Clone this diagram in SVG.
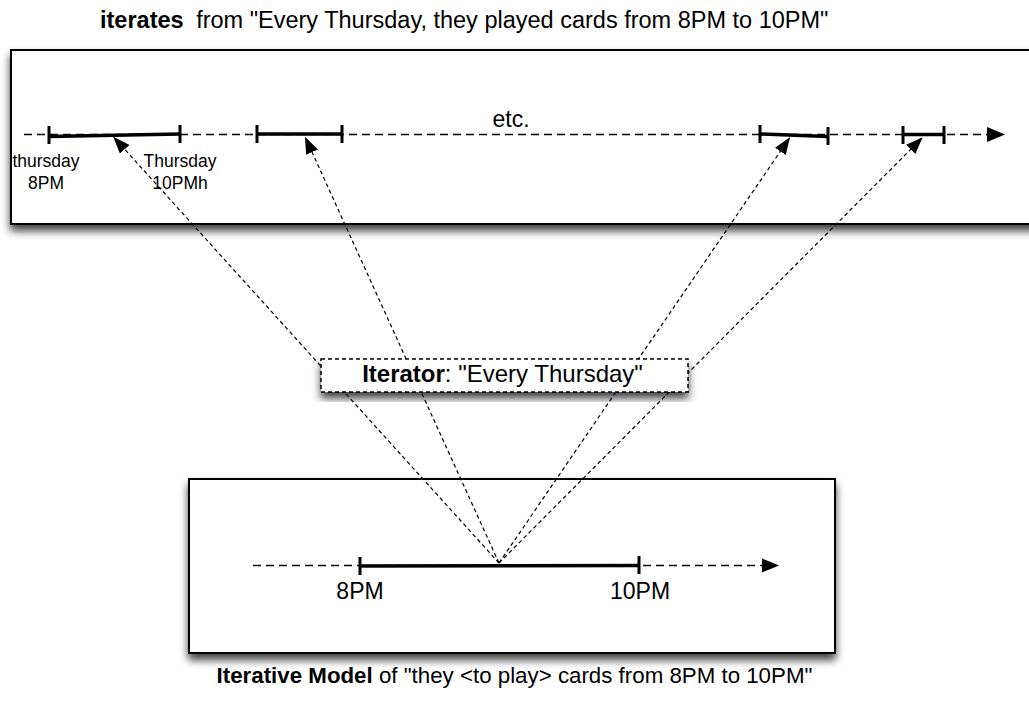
<svg xmlns="http://www.w3.org/2000/svg" width="1029" height="702" viewBox="0 0 1029 702">
<style>
text{font-family:"Liberation Sans",Arial,sans-serif;fill:#000}
.box{fill:#fff;stroke:#000;stroke-width:2}
.itbox{fill:#fff;stroke:#000;stroke-width:1.5;stroke-dasharray:4 3}
.axis{stroke:#000;stroke-width:1.5;stroke-dasharray:8 5;fill:none}
.seg{stroke:#000;stroke-width:3.5;fill:none}
.tick{stroke:#000;stroke-width:3;fill:none}
.conn{stroke:#000;stroke-width:1.2;stroke-dasharray:4 3;fill:none}
.lbl{font-size:17.5px}
.big{font-size:23px}
</style>
<defs>
<filter id="sh" x="-10%" y="-20%" width="120%" height="150%">
<feDropShadow dx="0" dy="6" stdDeviation="4.5" flood-color="#000" flood-opacity="0.75"/>
</filter>
<marker id="ah" markerUnits="userSpaceOnUse" markerWidth="19" markerHeight="14" refX="17" refY="6.5" orient="auto">
<path d="M0,0 L17,6.5 L0,13 z" fill="#000"/>
</marker>
</defs>

<text x="100" y="28" font-size="23.5"><tspan font-weight="bold">iterates</tspan><tspan dx="6"> from "Every Thursday, they played cards from 8PM to 10PM"</tspan></text>

<g id="instances">
<rect class="box" x="11" y="50" width="1040" height="174" filter="url(#sh)"/>
<line class="axis" x1="24" y1="134.5" x2="988" y2="134.5"/>
<path d="M987,127 L1005,134.5 L987,142 z" fill="#000"/>
<line class="seg" x1="49" y1="136.5" x2="180" y2="134"/>
<line class="seg" x1="257" y1="134" x2="342" y2="134"/>
<line class="seg" x1="760" y1="134" x2="828" y2="136.5"/>
<line class="seg" x1="903" y1="134.5" x2="944" y2="134.5"/>
<line class="tick" x1="49" y1="126" x2="49" y2="144"/>
<line class="tick" x1="180" y1="125" x2="180" y2="143"/>
<line class="tick" x1="257" y1="125" x2="257" y2="143"/>
<line class="tick" x1="342" y1="125" x2="342" y2="143"/>
<line class="tick" x1="760" y1="125" x2="760" y2="143"/>
<line class="tick" x1="828" y1="127" x2="828" y2="145"/>
<line class="tick" x1="903" y1="126" x2="903" y2="144"/>
<line class="tick" x1="944" y1="126" x2="944" y2="144"/>
<text class="lbl" x="46" y="167" text-anchor="middle">thursday</text>
<text class="lbl" x="46" y="189" text-anchor="middle">8PM</text>
<text class="lbl" x="180" y="167" text-anchor="middle">Thursday</text>
<text class="lbl" x="180" y="189" text-anchor="middle">10PMh</text>
<text class="big" x="511" y="127" text-anchor="middle">etc.</text>
</g>

<g id="model">
<rect class="box" x="189" y="479" width="646" height="174" filter="url(#sh)"/>
<line class="axis" x1="253" y1="565.5" x2="763" y2="565.5"/>
<path d="M762,558.5 L779,565.5 L762,572.5 z" fill="#000"/>
<line class="seg" x1="360" y1="566" x2="639" y2="565.5"/>
<line class="tick" x1="360" y1="557" x2="360" y2="575"/>
<line class="tick" x1="639" y1="556" x2="639" y2="574"/>
<text class="big" x="360" y="599" text-anchor="middle">8PM</text>
<text class="big" x="640" y="599" text-anchor="middle">10PM</text>
</g>

<g id="connectors">
<line class="conn" x1="499" y1="563" x2="113.3" y2="136.7" marker-end="url(#ah)"/>
<line class="conn" x1="499" y1="563" x2="305" y2="136.7" marker-end="url(#ah)"/>
<line class="conn" x1="499" y1="563" x2="790" y2="137.3" marker-end="url(#ah)"/>
<line class="conn" x1="499" y1="563" x2="922.7" y2="137.3" marker-end="url(#ah)"/>
</g>

<g id="iterator">
<rect class="itbox" x="321" y="359" width="367" height="33" filter="url(#sh)"/>
<text x="502.5" y="382" font-size="24" text-anchor="middle"><tspan font-weight="bold">Iterator</tspan>: "Every Thursday"</text>
</g>

<text x="514.5" y="683" font-size="22.3" text-anchor="middle"><tspan font-weight="bold">Iterative Model</tspan> of "they &lt;to play&gt; cards from 8PM to 10PM"</text>
</svg>
